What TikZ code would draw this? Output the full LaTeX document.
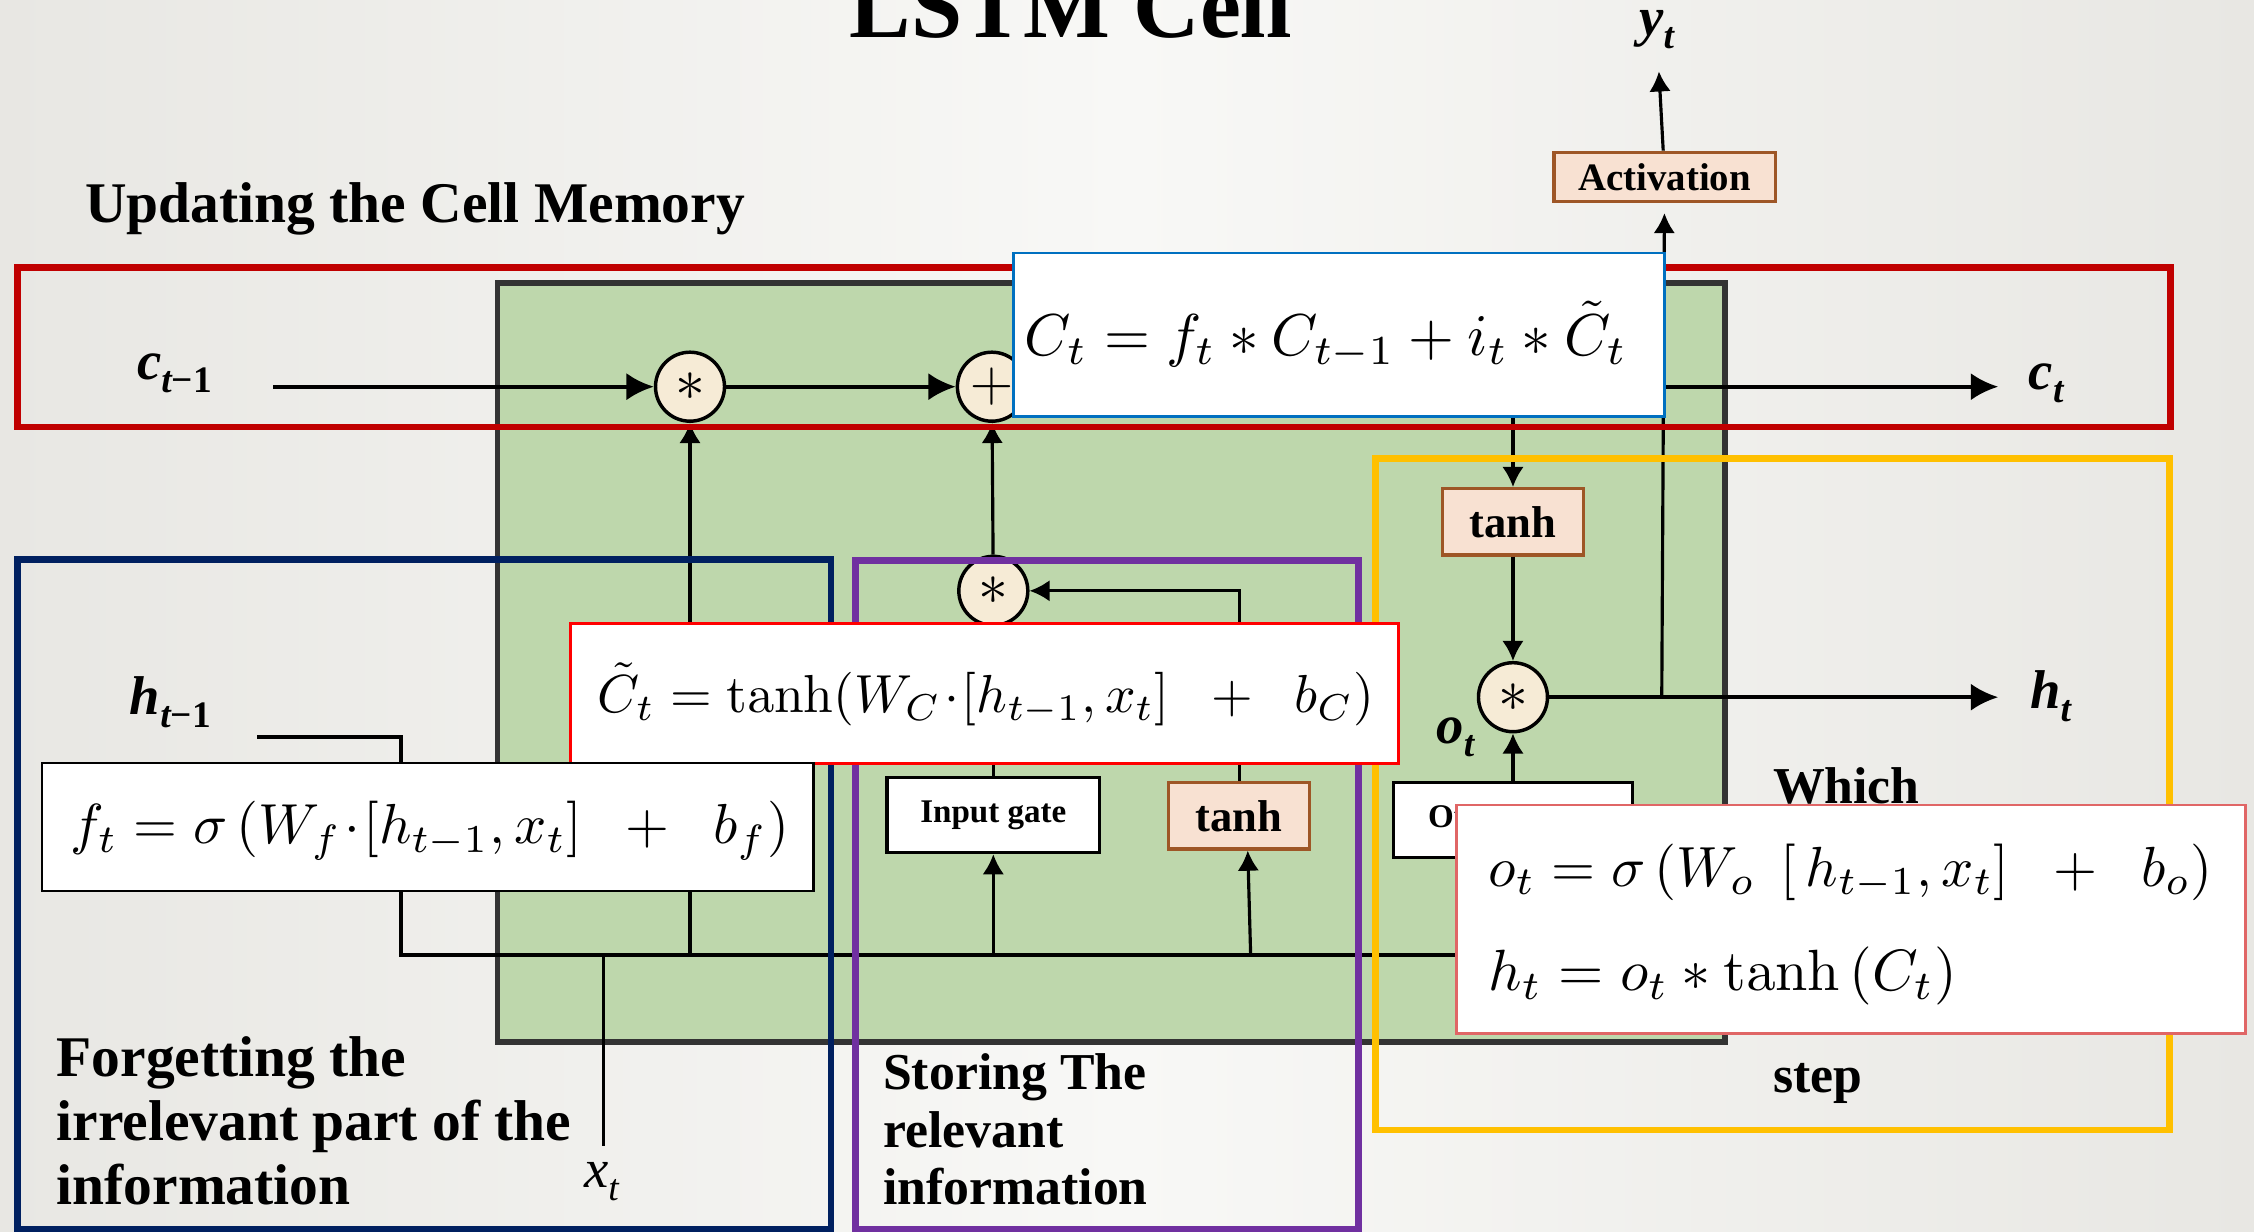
\documentclass[tikz,border=0pt]{standalone}
\usepackage[no-math]{fontspec}
\setmainfont{Liberation Serif}
\usepackage{graphicx}
\usetikzlibrary{arrows.meta}
\definecolor{bgA}{RGB}{232,231,227}
\definecolor{bgB}{RGB}{248,248,246}
\definecolor{cellfill}{RGB}{190,215,172}
\definecolor{cellline}{RGB}{51,51,51}
\definecolor{redbox}{RGB}{192,0,0}
\definecolor{navybox}{RGB}{0,32,96}
\definecolor{purplebox}{RGB}{112,48,160}
\definecolor{yellowbox}{RGB}{255,192,0}
\definecolor{peach}{RGB}{248,225,210}
\definecolor{brownline}{RGB}{158,86,38}
\definecolor{cream}{RGB}{246,235,214}
\definecolor{eqblue}{RGB}{0,112,192}
\definecolor{eqred}{RGB}{255,0,0}
\definecolor{eqpink}{RGB}{224,102,102}
\newcommand\fsz[2]{\fontsize{#1}{#2}\selectfont}
\newcommand\blab[2]{{\fsz{19}{20}\bfseries\itshape #1}\raisebox{-4.5pt}{\fsz{13}{13}\bfseries\itshape #2}}
\begin{document}
\begin{tikzpicture}[x=0.5pt,y=-0.5pt,
  thickline/.style={line width=1.4pt},
  thinline/.style={line width=1.1pt},
  bigtip/.style={-{Latex[length=9.5pt,width=9.5pt]}},
  smalltip/.style={-{Latex[length=7pt,width=7.5pt]}},
  opcirc/.style={circle,draw=black,line width=1.2pt,fill=cream,minimum size=24pt,inner sep=0pt,font=\fsz{22}{22}},
  peachbox/.style={draw=brownline,fill=peach,line width=1.2pt,inner sep=0pt,font=\fsz{15.5}{16}\bfseries},
  gatebox/.style={draw=black,fill=white,line width=1.2pt,inner sep=0pt,font=\fsz{11.5}{12}\bfseries},
  eqbox/.style={fill=white,inner sep=0pt},
  lab/.style={anchor=base west,inner sep=0pt},
  regiontext/.style={anchor=base west,inner sep=0pt,font=\fsz{20}{22}\bfseries},
  regiontextb/.style={anchor=base west,inner sep=0pt,font=\fsz{18}{20}\bfseries},
  region/.style={line width=2.3pt}
]
% background
\shade[left color=bgA, right color=bgA, middle color=bgB] (0,0) rectangle (1568,857);
\useasboundingbox (0,0) rectangle (1568,857);

% titles
\node[anchor=base, inner sep=0pt, font=\fsz{32}{34}\bfseries] (title) at (745,26) {LSTM Cell};
\node[regiontext] (updating) at (59,155) {Updating the Cell Memory};

% cell
\node[draw=cellline, line width=2pt, fill=cellfill, minimum width=427pt, minimum height=264pt, inner sep=0pt] (cell) at (773,461) {};

% operators and boxes
\node[opcirc] (m1) at (480,269) {$\ast$};
\node[opcirc] (plus) at (690,269) {$+$};
\node[opcirc] (m2) at (691,411) {$\ast$};
\node[opcirc] (m3) at (1052.5,485) {$\ast$};
\node[peachbox, minimum width=77pt, minimum height=17pt, font=\fsz{13.5}{14}\bfseries] (act) at (1158,123) {Activation};
\node[peachbox, minimum width=49pt, minimum height=23pt] (tanhR) at (1052.5,363) {tanh};
\node[peachbox, minimum width=49pt, minimum height=23pt] (tanhL) at (862,567.5) {tanh};
\node[gatebox, minimum width=74pt, minimum height=26pt] (ingate) at (691,567) {Input gate};
\node[gatebox, minimum width=83pt, minimum height=26pt] (outgate) at (1052.5,570.5) {Output gate};

% labels
\node[lab] (ct1) at (95,264) {\blab{c}{t\upshape −1}};
\node[lab] (ht1) at (90,497) {\blab{h}{t\upshape −1}};
\node[lab] (ct) at (1411,271) {\blab{c}{t}};
\node[lab] (ht) at (1412,493) {\blab{h}{t}};
\node[lab] (ot) at (999,517) {\blab{o}{t}};
\node[lab] (yt) at (1140,25) {\blab{y}{t}};
\node[lab] (xt) at (406,826) {{\fsz{19}{20}\itshape x}\raisebox{-4.5pt}{\fsz{13}{13}\itshape t}};

% coordinates
\coordinate (ct1end) at (190,269);
\coordinate (ctend) at (1390,269);
\coordinate (cbranch) at (1052.5,269);
\coordinate (htend) at (1390,485);
\coordinate (hbranch) at (1156,485);
\coordinate (ht1end) at (179,513);
\coordinate (hcorner) at (279,513);
\coordinate (bus0) at (279,664);
\coordinate (busx) at (420,664);
\coordinate (xtend) at (420,797);
\coordinate (busf) at (480,664);
\coordinate (busi) at (691,664);
\coordinate (bust) at (870,664);
\coordinate (buso) at (1052.5,664);

% connectors
\draw[thickline,bigtip] (ct1end) -- (m1);
\draw[thickline,bigtip] (m1) -- (plus);
\draw[thickline,bigtip] (plus) -- (ctend);
\draw[thinline,smalltip] (cbranch) -- (tanhR);
\draw[thinline,smalltip] (tanhR) -- (m3);
\draw[thickline,bigtip] (m3) -- (htend);
\draw[thinline,smalltip,shorten >=3.5pt] (hbranch) -- (act);
\draw[thinline,smalltip,shorten >=7.5pt] (act) -- (yt);
\draw[thickline] (ht1end) -- (hcorner) -- (bus0) -- (buso);
\draw[thinline] (xtend) -- (busx);
\draw[thinline,smalltip] (busf) -- (m1);
\draw[thinline,smalltip] (busi) -- (ingate);
\draw[thinline] (ingate) -- (m2);
\draw[thinline,smalltip] (m2) -- (plus);
\draw[thinline,smalltip] (bust) -- ([xshift=3pt]tanhL.south);
\draw[thinline,smalltip] (tanhL.north) -- (tanhL.north |- m2) -- (m2);
\draw[thinline,smalltip] (buso) -- (outgate);
\draw[thinline,smalltip] (outgate) -- (m3);

% regions
\draw[region, redbox] (12,186) rectangle (1510,297);
\draw[region, navybox] (12,389) rectangle (578,855);
\draw[region, purplebox] (595,390) rectangle (945,855);
\draw[region, yellowbox] (957,319) rectangle (1509,786);

% region texts
\node[regiontext] (f1) at (39,749) {Forgetting the};
\node[regiontext] (f2) at (39,793.5) {irrelevant part of the};
\node[regiontext] (f3) at (39,838) {information};
\node[regiontextb] (s1) at (614,758) {Storing The};
\node[regiontextb] (s2) at (614,798) {relevant};
\node[regiontextb] (s3) at (614,838) {information};
\node[regiontextb] (w1) at (1233,559) {Which};
\node[regiontextb] (w2) at (1233,760) {step};

% equation boxes
\node[eqbox, draw=eqblue, line width=1pt, minimum width=226.5pt, minimum height=57pt] (eqCbox) at (931.5,233) {};
\node[inner sep=0pt] (eqC) at (922.5,233) {\resizebox{209.5pt}{!}{$C_t = f_t * C_{t-1} + i_t * \tilde{C}_t$}};

\node[eqbox, draw=eqred, line width=1pt, minimum width=288pt, minimum height=48.5pt] (eqTbox) at (685,482.5) {};
\node[inner sep=0pt] (eqT) at (686,483) {\resizebox{270pt}{!}{$\tilde{C}_t = \tanh(W_C\!\cdot\![h_{t-1},x_t] \;\;+\;\; b_C)$}};

\node[eqbox, draw=black, line width=0.8pt, minimum width=268.5pt, minimum height=44.5pt] (eqFbox) at (297.5,575.5) {};
\node[inner sep=0pt] (eqF) at (299,578) {\resizebox{250pt}{!}{$f_t = \sigma\left(W_f\!\cdot\![h_{t-1},x_t] \;\;+\;\; b_f\right)$}};

\node[eqbox, draw=eqpink, line width=1pt, minimum width=274.5pt, minimum height=79.5pt] (eqOHbox) at (1287.5,639.5) {};
\node[inner sep=0pt, anchor=west] (eqO) at (1035,606.5) {\resizebox{252pt}{!}{$o_t = \sigma\left(W_o\;\left[\,h_{t-1},x_t\right] \;\;+\;\; b_o\right)$}};
\node[inner sep=0pt, anchor=west] (eqH) at (1035,679) {\resizebox{163pt}{!}{$h_t = o_t * \tanh\left(C_t\right)$}};
\end{tikzpicture}
\end{document}
